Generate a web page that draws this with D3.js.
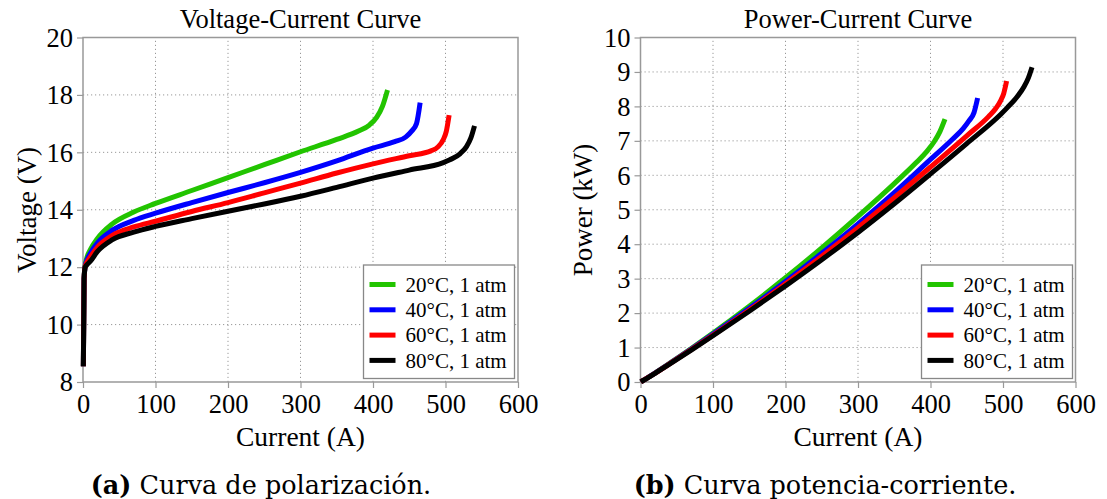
<!DOCTYPE html>
<html><head><meta charset="utf-8">
<script src="https://cdn.jsdelivr.net/npm/d3@7"></script>
<style>body{margin:0;background:#fff}svg{display:block}</style>
</head><body>
<script>
// ---- data ----
const seriesNames = ["20°C, 1 atm", "40°C, 1 atm", "60°C, 1 atm", "80°C, 1 atm"];
const seriesColors = ["#22c400", "#0000ff", "#ff0000", "#000000"];

const current20 = [0.5,1.5,3,5,10,20,40,70,100,150,200,250,300,350,380,395,405,413,420];
const voltage20 = [8.55,11.6,12.05,12.3,12.6,13.0,13.5,13.92,14.22,14.67,15.12,15.57,16.02,16.45,16.74,16.95,17.22,17.6,18.17];
const power20   = [0.004,0.017,0.036,0.062,0.126,0.26,0.54,0.974,1.422,2.201,3.024,3.893,4.806,5.758,6.361,6.695,6.974,7.269,7.631];

const current40 = [0.5,1.5,3,5,10,20,40,70,100,150,200,250,300,350,400,430,445,453,460,465];
const voltage40 = [8.55,11.6,12.03,12.22,12.48,12.85,13.28,13.63,13.88,14.25,14.6,14.94,15.3,15.7,16.15,16.37,16.53,16.73,17.0,17.73];
const power40   = [0.004,0.017,0.036,0.061,0.125,0.257,0.531,0.954,1.388,2.138,2.92,3.735,4.59,5.495,6.46,7.039,7.356,7.579,7.82,8.244];

const current60 = [0.5,1.5,3,5,10,20,40,70,100,150,200,250,300,350,400,450,480,490,497,501,505];
const voltage60 = [8.55,11.6,12.02,12.15,12.35,12.7,13.1,13.4,13.6,13.94,14.25,14.59,14.93,15.28,15.6,15.88,16.05,16.2,16.45,16.72,17.3];
const power60   = [0.004,0.017,0.036,0.061,0.124,0.254,0.524,0.938,1.36,2.091,2.85,3.648,4.479,5.348,6.24,7.146,7.704,7.938,8.176,8.377,8.737];

const current80 = [0.5,1.5,3,5,10,20,40,70,100,150,200,250,300,350,400,450,497,506,520,529,535,540];
const voltage80 = [8.55,11.6,12.0,12.07,12.2,12.55,12.95,13.22,13.42,13.69,13.95,14.2,14.47,14.78,15.1,15.38,15.64,15.74,15.95,16.2,16.5,16.92];
const power80   = [0.004,0.017,0.036,0.060,0.122,0.251,0.518,0.925,1.342,2.054,2.79,3.55,4.341,5.173,6.04,6.921,7.773,7.964,8.294,8.57,8.828,9.137];

const currents = [current20, current40, current60, current80];
const voltages = [voltage20, voltage40, voltage60, voltage80];
const powers = [power20, power40, power60, power80];

const xTicks = [0,100,200,300,400,500,600];
const vTicks = [8,10,12,14,16,18,20];
const pTicks = [0,1,2,3,4,5,6,7,8,9,10];

const W = 1107, H = 499;
const FONT = "'Liberation Serif', 'Times New Roman', serif";
const svg = d3.select("body").append("svg").attr("width", W).attr("height", H);

function panel(opt) {
  const x = d3.scaleLinear().domain([0, 600]).range([opt.x0, opt.x1]);
  const y = d3.scaleLinear().domain(opt.yDomain).range([382, 37.5]);
  const g = svg.append("g");
  // grid
  g.append("g").selectAll("line").data(xTicks.slice(1, -1)).join("line")
    .attr("x1", d => x(d)).attr("x2", d => x(d)).attr("y1", y.range()[0]).attr("y2", y.range()[1])
    .attr("stroke", "#999").attr("stroke-width", 1).attr("stroke-dasharray", "1.2,2.8");
  g.append("g").selectAll("line").data(opt.yTicks.slice(1, -1)).join("line")
    .attr("y1", d => y(d)).attr("y2", d => y(d)).attr("x1", x.range()[0]).attr("x2", x.range()[1])
    .attr("stroke", "#999").attr("stroke-width", 1).attr("stroke-dasharray", "1.2,2.8");
  // axes
  const xa = g.append("g").attr("transform", `translate(0,${y.range()[0]})`)
    .call(d3.axisBottom(x).tickValues(xTicks).tickSize(6).tickPadding(6).tickSizeOuter(0));
  const ya = g.append("g").attr("transform", `translate(${x.range()[0]},0)`)
    .call(d3.axisLeft(y).tickValues(opt.yTicks).tickSize(6).tickPadding(4).tickSizeOuter(0));
  [xa, ya].forEach(a => {
    a.attr("font-family", FONT).attr("font-size", 26.5);
    a.select(".domain").remove();
    a.selectAll(".tick line").attr("stroke", "#999").attr("stroke-width", 1.2);
    a.selectAll(".tick text").style("font-family", FONT).style("font-size", "26.5px").attr("fill", "#000");
  });
  xa.selectAll(".tick text").attr("dy", "0.7em");
  ya.selectAll(".tick text").attr("dy", "0.33em");
  // frame
  g.append("rect").attr("x", x.range()[0]).attr("y", y.range()[1])
    .attr("width", x.range()[1] - x.range()[0]).attr("height", y.range()[0] - y.range()[1])
    .attr("fill", "none").attr("stroke", "#999").attr("stroke-width", 1.5);
  // lines
  const line = d3.line().x(d => x(d[0])).y(d => y(d[1])).curve(d3.curveMonotoneX);
  g.append("g").selectAll("path").data(d3.range(4)).join("path")
    .attr("d", i => line(d3.zip(currents[i], opt.values[i])))
    .attr("fill", "none").attr("stroke", i => seriesColors[i]).attr("stroke-width", 5)
    .attr("stroke-linejoin", "round");
  // legend
  const lg = g.append("g");
  lg.append("rect").attr("x", opt.lx).attr("y", 265).attr("width", 151).attr("height", 113.5)
    .attr("fill", "#fff").attr("stroke", "#888").attr("stroke-width", 1.3);
  seriesNames.forEach((n, i) => {
    const yy = 284.5 + i * 25.3;
    lg.append("line").attr("x1", opt.lx + 6).attr("x2", opt.lx + 32).attr("y1", yy).attr("y2", yy)
      .attr("stroke", seriesColors[i]).attr("stroke-width", 5);
    lg.append("text").attr("x", opt.lx + 42).attr("y", yy).attr("dy", "0.35em")
      .style("font-family", FONT).style("font-size", "21px").text(n);
  });
  // titles
  const cx = (x.range()[0] + x.range()[1]) / 2;
  g.append("text").attr("x", cx).attr("y", 28).attr("text-anchor", "middle")
    .style("font-family", FONT).style("font-size", "26.5px").text(opt.title);
  g.append("text").attr("x", cx).attr("y", 446).attr("text-anchor", "middle")
    .style("font-family", FONT).style("font-size", "27.5px").text("Current (A)");
  g.append("text").attr("transform", `translate(${opt.ylx},210) rotate(-90)`).attr("text-anchor", "middle")
    .style("font-family", FONT).style("font-size", "27px").text(opt.ylabel);
  // caption
  const cap = g.append("text").attr("x", opt.capx).attr("y", 494).attr("text-anchor", "middle")
    .style("font-family", "'DejaVu Serif', serif").style("font-size", "25.5px");
  cap.append("tspan").attr("font-weight", "bold").text(opt.capLetter);
  cap.append("tspan").text(" " + opt.caption);
}

panel({x0: 83, x1: 518, yDomain: [8, 20], yTicks: vTicks, values: voltages, lx: 363.5,
  title: "Voltage-Current Curve", ylabel: "Voltage (V)", ylx: 36,
  capx: 261, capLetter: "(a)", caption: "Curva de polarización."});
panel({x0: 640.5, x1: 1075.5, yDomain: [0, 10], yTicks: pTicks, values: powers, lx: 921.5,
  title: "Power-Current Curve", ylabel: "Power (kW)", ylx: 592,
  capx: 825, capLetter: "(b)", caption: "Curva potencia-corriente."});
</script>
</body></html>
